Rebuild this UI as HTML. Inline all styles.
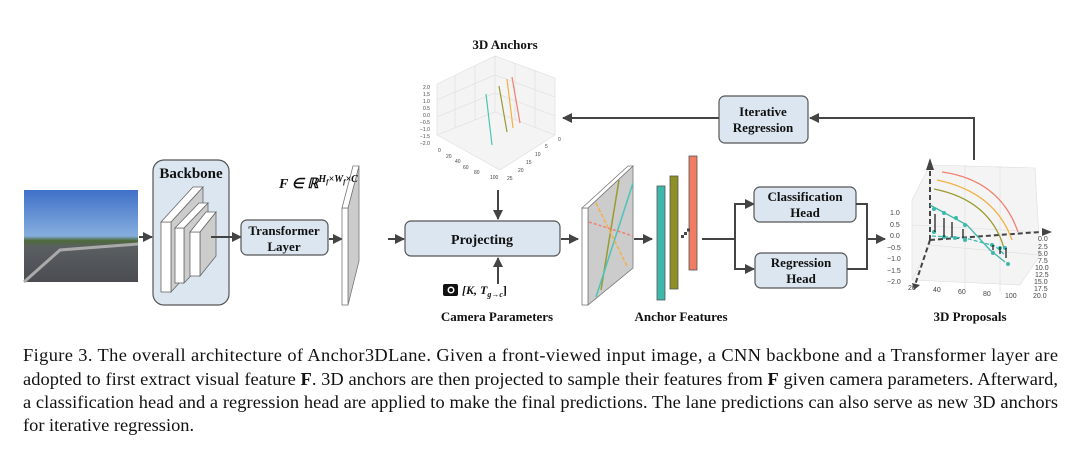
<!DOCTYPE html>
<html><head><meta charset="utf-8"><style>
html,body{margin:0;padding:0;background:#fff;width:1080px;height:458px;overflow:hidden}
svg{display:block}
.b{font-family:"Liberation Serif",serif;font-weight:bold;fill:#111}
.t{font-family:"Liberation Sans",sans-serif;fill:#444;font-size:5px}
.c{font-family:"Liberation Serif",serif;font-size:18.4px;fill:#111}
</style></head><body>
<svg width="1080" height="458" viewBox="0 0 1080 458">
<defs>
<marker id="a" markerWidth="10" markerHeight="10" refX="9" refY="5" orient="auto" markerUnits="userSpaceOnUse"><path d="M0,0 L10,5 L0,10z" fill="#444"/></marker>
<linearGradient id="sky" x1="0" y1="0" x2="0" y2="1"><stop offset="0" stop-color="#3f70c8"/><stop offset="0.5" stop-color="#86aede"/><stop offset="0.55" stop-color="#4d6a3a"/><stop offset="0.62" stop-color="#5a5f62"/><stop offset="1" stop-color="#4a4c52"/></linearGradient>
</defs>
<g stroke="#444" stroke-width="2" fill="none">
<rect x="24" y="190" width="114" height="92" fill="url(#sky)" stroke="none"/>
<path d="M24,282 L60,250 L138,244" stroke="#aaa" stroke-width="3"/>
<line x1="139" y1="237" x2="152" y2="237" marker-end="url(#a)"/>
<rect x="153" y="160" width="76" height="145" rx="11" fill="#dce6f0" stroke="#555" stroke-width="1.2"/>
<g stroke="#666" stroke-width="0.8">
<polygon points="171,222 203,187 203,257 171,292" fill="#ccc"/><rect x="161" y="222" width="10" height="70" fill="#fff"/><polygon points="161,222 193,187 203,187 171,222" fill="#fff"/>
<polygon points="184,228 208,203 208,258 184,283" fill="#ccc"/><rect x="175" y="228" width="9" height="55" fill="#fff"/><polygon points="175,228 199,203 208,203 184,228" fill="#fff"/>
<polygon points="200,232 216,212 216,256 200,276" fill="#ccc"/><rect x="190" y="232" width="10" height="44" fill="#fff"/><polygon points="190,232 206,212 216,212 200,232" fill="#fff"/>
</g>
<line x1="211" y1="237" x2="241" y2="237" marker-end="url(#a)"/>
<rect x="241" y="220" width="87" height="35" rx="6" fill="#dce6f0" stroke="#555" stroke-width="1.2"/>
<line x1="329" y1="239" x2="342" y2="239" marker-end="url(#a)"/>
<g stroke="#777" stroke-width="0.8">
<polygon points="348,208 359,166 359,261 348,305" fill="#ccc"/>
<rect x="342" y="208" width="6" height="97" fill="#fff"/>
<polygon points="342,208 353,166 359,166 348,208" fill="#fff"/>
</g>
<line x1="388" y1="239" x2="404" y2="239" marker-end="url(#a)"/>
<rect x="405" y="221" width="155" height="35" rx="6" fill="#dce6f0" stroke="#555" stroke-width="1.2"/>
<line x1="498" y1="190" x2="498" y2="219" marker-end="url(#a)"/>
<line x1="498" y1="284" x2="498" y2="258" marker-end="url(#a)"/>
<line x1="561" y1="239" x2="578" y2="239" marker-end="url(#a)"/>
<g stroke="#777" stroke-width="0.8">
<polygon points="588,208 633,166 633,268 588,305" fill="#ccc"/>
<rect x="582" y="208" width="6" height="97" fill="#fff"/>
<polygon points="582,208 628,166 633,166 588,208" fill="#fff"/>
</g>
<g stroke-width="1.5">
<line x1="619" y1="180" x2="601" y2="290" stroke="#9a9a30"/>
<line x1="633" y1="183" x2="596" y2="297" stroke="#4dc4b8"/>
<line x1="596" y1="203" x2="627" y2="266" stroke="#f5b040" stroke-dasharray="4,2"/>
<line x1="589" y1="222" x2="633" y2="236" stroke="#f08070" stroke-dasharray="3,2"/>
</g>
<line x1="634" y1="239" x2="652" y2="239" marker-end="url(#a)"/>
<g stroke="#555" stroke-width="0.8">
<rect x="657" y="186" width="8" height="114" fill="#3fb8ac"/>
<rect x="670" y="176" width="8" height="113" fill="#8f8f28"/>
<rect x="689" y="156" width="8" height="114" fill="#f07c62"/>
</g>
<text x="681" y="236" class="t" style="font-size:9px" fill="#333">⋰</text>
<line x1="702" y1="239" x2="735" y2="239"/>
<polyline points="754,204 735,204 735,269 754,269"/>
<line x1="735" y1="204" x2="754" y2="204" marker-end="url(#a)"/>
<line x1="735" y1="269" x2="754" y2="269" marker-end="url(#a)"/>
<rect x="754" y="187" width="102" height="35" rx="6" fill="#dce6f0" stroke="#555" stroke-width="1.2"/>
<rect x="755" y="253" width="92" height="35" rx="6" fill="#dce6f0" stroke="#555" stroke-width="1.2"/>
<polyline points="856,204 867,204 867,269 847,269"/>
<line x1="867" y1="239" x2="885" y2="239" marker-end="url(#a)"/>
<polyline points="974,160 974,118 810,118" marker-end="url(#a)"/>
<line x1="719" y1="118" x2="563" y2="118" marker-end="url(#a)"/>
<rect x="719" y="96" width="89" height="47" rx="6" fill="#dce6f0" stroke="#555" stroke-width="1.2"/>
</g>
<g stroke="#ddd" stroke-width="0.6" fill="none">
<polygon points="437,84 495,56 555,78 555,135 500,170 437,135" fill="#f4f4f4"/>
<path d="M495,56 L495,112 L437,135 M495,112 L555,135"/>
<path d="M455,76 L455,128 M475,66 L475,120 M515,63 L515,120 M535,70 L535,127 M437,100 L495,75 L555,97 M437,117 L495,93 L555,116"/>
</g>
<g stroke-width="1.2">
<line x1="486" y1="94" x2="492" y2="145" stroke="#4dc4b8"/>
<line x1="499" y1="86" x2="507" y2="132" stroke="#9a9a30"/>
<line x1="507" y1="79" x2="513" y2="128" stroke="#f5b040"/>
<line x1="512" y1="77" x2="520" y2="123" stroke="#f08070"/>
</g>
<g class="t"><text x="423" y="89">2.0</text><text x="423" y="96">1.5</text><text x="423" y="103">1.0</text><text x="423" y="110">0.5</text><text x="423" y="117">0.0</text><text x="420" y="124">−0.5</text><text x="420" y="131">−1.0</text><text x="420" y="138">−1.5</text><text x="420" y="145">−2.0</text>
<text x="438" y="152">0</text><text x="446" y="158">20</text><text x="455" y="163">40</text><text x="463" y="169">60</text><text x="474" y="174">80</text><text x="490" y="179">100</text><text x="507" y="180">25</text><text x="518" y="172">20</text><text x="526" y="164">15</text><text x="535" y="156">10</text><text x="545" y="148">5</text><text x="558" y="141">0</text></g>
<g stroke="#ddd" stroke-width="0.6" fill="none">
<polygon points="912,200 930,165 1035,168 1040,255 1020,285 912,280" fill="#f4f4f4"/>
<path d="M930,165 L930,245 L1040,255 M930,245 L912,280 M965,165 L965,290 M1000,166 L1000,292 M912,225 L1040,232"/>
</g>
<g stroke="#444" stroke-width="2" fill="none" stroke-dasharray="5,3"><line x1="930" y1="240" x2="930" y2="165"/><line x1="930" y1="240" x2="1040" y2="232"/><line x1="930" y1="240" x2="915" y2="285"/></g>
<path d="M926,170 L930,158 L934,170z M1042,228 L1052,232 L1042,236z M912,283 L914,290 L920,285z" fill="#444"/>
<g fill="none" stroke-width="1.3">
<path d="M942,172 Q1000,180 1018,232" stroke="#f08070"/>
<path d="M937,180 Q995,192 1012,240" stroke="#f5b040"/>
<path d="M934,189 Q990,200 1004,248" stroke="#9a9a30"/>
<path d="M930,205 L967,225 L990,250 L1005,262" stroke="#3fb8ac"/>
<path d="M932,236 L965,238 L995,246 L1005,255" stroke="#3fb8ac" stroke-dasharray="4,2"/>
</g>
<g fill="#3fb8ac"><circle cx="934" cy="209" r="2"/><circle cx="944" cy="213" r="2"/><circle cx="956" cy="218" r="2"/><circle cx="965" cy="225" r="2"/><circle cx="934" cy="232" r="2"/><circle cx="944" cy="237" r="2"/><circle cx="955" cy="238" r="2"/><circle cx="965" cy="240" r="2"/><circle cx="992" cy="245" r="2"/><circle cx="1000" cy="248" r="2"/><circle cx="1005" cy="248" r="2"/><circle cx="993" cy="253" r="2"/><circle cx="1008" cy="264" r="2"/></g>
<g stroke="#111" stroke-width="1.2"><line x1="935" y1="232" x2="935" y2="214"/><line x1="944" y1="237" x2="944" y2="218"/><line x1="952" y1="237" x2="952" y2="222"/><line x1="963" y1="238" x2="963" y2="229"/><line x1="993" y1="245" x2="993" y2="250"/><line x1="1000" y1="247" x2="1000" y2="254"/><line x1="1006" y1="248" x2="1006" y2="258"/></g>
<g class="t" style="font-size:7px"><text x="890" y="215">1.0</text><text x="890" y="227">0.5</text><text x="890" y="238">0.0</text><text x="887" y="250">−0.5</text><text x="887" y="261">−1.0</text><text x="887" y="273">−1.5</text><text x="887" y="284">−2.0</text>
<text x="908" y="290">20</text><text x="933" y="292">40</text><text x="958" y="294">60</text><text x="983" y="296">80</text><text x="1005" y="298">100</text>
<text x="1038" y="241">0.0</text><text x="1038" y="249">2.5</text><text x="1038" y="256">5.0</text><text x="1038" y="263">7.5</text><text x="1035" y="270">10.0</text><text x="1035" y="277">12.5</text><text x="1034" y="284">15.0</text><text x="1034" y="291">17.5</text><text x="1033" y="298">20.0</text></g>
<rect x="443" y="284" width="15" height="12" rx="2" fill="#111"/><circle cx="451" cy="290" r="3.5" fill="#fff"/><circle cx="451" cy="290" r="2" fill="#111"/>
<text x="191" y="178" class="b" font-size="15" text-anchor="middle">Backbone</text>
<text x="284" y="235" class="b" font-size="13" text-anchor="middle">Transformer</text>
<text x="284" y="251" class="b" font-size="13" text-anchor="middle">Layer</text>
<text x="279" y="188" class="b" font-size="14" font-style="italic">F ∈ ℝ<tspan font-size="10" dy="-6">H</tspan><tspan font-size="7" dy="2">f</tspan><tspan font-size="10" dy="-2">×W</tspan><tspan font-size="7" dy="2">f</tspan><tspan font-size="10" dy="-2">×C</tspan></text>
<text x="482" y="244" class="b" font-size="14" text-anchor="middle">Projecting</text>
<text x="462" y="294" class="b" font-size="12" font-style="italic">[K, T<tspan font-size="8" dy="3">g→c</tspan><tspan dy="-3" font-style="normal">]</tspan></text>
<text x="497" y="321" class="b" font-size="13" text-anchor="middle">Camera Parameters</text>
<text x="505" y="49" class="b" font-size="13" text-anchor="middle">3D Anchors</text>
<text x="763" y="116" class="b" font-size="13" text-anchor="middle">Iterative</text>
<text x="763" y="132" class="b" font-size="13" text-anchor="middle">Regression</text>
<text x="805" y="201" class="b" font-size="13" text-anchor="middle">Classification</text>
<text x="805" y="217" class="b" font-size="13" text-anchor="middle">Head</text>
<text x="801" y="267" class="b" font-size="13" text-anchor="middle">Regression</text>
<text x="801" y="283" class="b" font-size="13" text-anchor="middle">Head</text>
<text x="681" y="321" class="b" font-size="13" text-anchor="middle">Anchor Features</text>
<text x="970" y="321" class="b" font-size="13" text-anchor="middle">3D Proposals</text>
<text x="23" y="361" class="c" textLength="1035" lengthAdjust="spacing">Figure 3.  The overall architecture of Anchor3DLane.  Given a front-viewed input image, a CNN backbone and a Transformer layer are</text>
<text x="23" y="385" class="c" textLength="1035" lengthAdjust="spacing">adopted to first extract visual feature <tspan font-weight="bold">F</tspan>. 3D anchors are then projected to sample their features from <tspan font-weight="bold">F</tspan> given camera parameters. Afterward,</text>
<text x="23" y="408" class="c" textLength="1035" lengthAdjust="spacing">a classification head and a regression head are applied to make the final predictions. The lane predictions can also serve as new 3D anchors</text>
<text x="23" y="431" class="c">for iterative regression.</text>
</svg>
</body></html>
